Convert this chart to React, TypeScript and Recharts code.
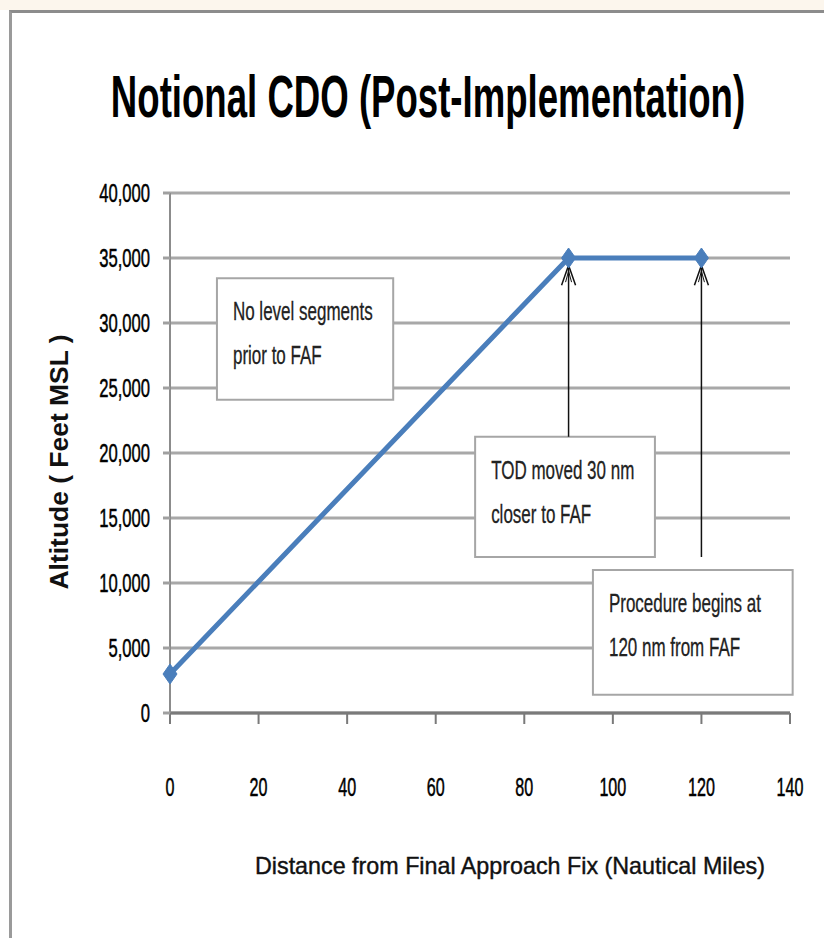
import React from 'react';
import {
  LineChart, Line, XAxis, YAxis, CartesianGrid, ReferenceArea, ReferenceLine, Label,
} from 'recharts';

// flight profile
const distances = [0, 90, 120];
const altitudes = [3000, 35000, 35000];
const xTicks = [0, 20, 40, 60, 80, 100, 120, 140];
const yTicks = [0, 5000, 10000, 15000, 20000, 25000, 30000, 35000, 40000];

const noteTexts = [
  ['No level segments', 'prior to FAF'],
  ['TOD moved 30 nm', 'closer to FAF'],
  ['Procedure begins at', '120 nm from FAF'],
];
const arrowAt = [90, 120];

// layout of the callouts (data units)
const noteBoxes = [
  { x1: 10.6, x2: 50.4, y1: 24100, y2: 33450 },
  { x1: 68.9, x2: 109.5, y1: 12000, y2: 21250 },
  { x1: 95.5, x2: 140.6, y1: 1400, y2: 11000 },
];
const arrowFrom = [21250, 12000];
const arrowTo = 34450;

const data = distances.map((d, i) => ({ d, alt: altitudes[i] }));

const FONT = '"Liberation Sans", Arial, sans-serif';
const BLUE = '#4a7ebb';

const Diamond = (p: any) => {
  const { cx, cy } = p;
  if (cx == null || cy == null) return null;
  return <polygon points={`${cx},${cy - 10} ${cx + 7},${cy} ${cx},${cy + 10} ${cx - 7},${cy}`} fill={BLUE} stroke={BLUE} />;
};

const YTick = ({ x, y, payload }: any) => (
  <g transform={`translate(${x},${y + 9}) scale(0.64,1)`}>
    <text textAnchor="end" fontSize={26} fontFamily={FONT} fill="#000" stroke="#000" strokeWidth={0.5}>
      {payload.value.toLocaleString('en-US')}
    </text>
  </g>
);

const XTick = ({ x, y, payload }: any) => (
  <g transform={`translate(${x},${y + 20}) scale(0.62,1)`}>
    <text textAnchor="middle" fontSize={26} fontFamily={FONT} fill="#000" stroke="#000" strokeWidth={0.5}>
      {payload.value}
    </text>
  </g>
);

const noteLabel = (lines: string[]) => (props: any) => {
  const vb = props.viewBox;
  return (
    <g>
      {lines.map((t, i) => (
        <g key={i} transform={`translate(${vb.x + 16},${vb.y + 42 + i * 44}) scale(0.68,1)`}>
          <text fontSize={25} fontFamily={FONT} fill="#222" stroke="#222" strokeWidth={0.3}>{t}</text>
        </g>
      ))}
    </g>
  );
};

const Arrow = (p: any) => {
  const { x1, y1, y2 } = p;
  const x = x1;
  const top = Math.min(y1, y2);
  const bot = Math.max(y1, y2);
  return (
    <g stroke="#111" strokeWidth={1.5} fill="none">
      <line x1={x} y1={top} x2={x} y2={bot} />
      <path d={`M${x - 7},${top + 20} L${x},${top} L${x + 7},${top + 20}`} />
      <path d={`M${x - 3},${top + 17} L${x},${top + 6} L${x + 3},${top + 17}`} strokeWidth={1} />
    </g>
  );
};

export default function App() {
  return (
    <div style={{ position: 'relative', width: 824, height: 938, background: '#fff', overflow: 'hidden' }}>
      <style>{'body{margin:0}'}</style>
      <div style={{ position: 'absolute', left: 0, top: 0, width: 824, height: 10, background: '#fcf6ed' }} />
      <div style={{
        position: 'absolute', left: 9, top: 10, width: 830, height: 940,
        borderTop: '3px solid #8c8c8c', borderLeft: '3px solid #9a9a9a',
      }} />
      <div style={{ position: 'absolute', left: 0, top: 0 }}>
        <LineChart width={824} height={938} data={data}
          margin={{ top: 193, right: 34, left: 110, bottom: 195 }}>
          <CartesianGrid horizontal vertical={false} stroke="#a8a8a8" strokeWidth={3} />
          <XAxis dataKey="d" type="number" domain={[0, 140]} ticks={xTicks} interval={0}
            height={30} tickSize={11} tickMargin={52}
            axisLine={{ stroke: '#7a7a7a', strokeWidth: 3 }} tickLine={{ stroke: '#7a7a7a', strokeWidth: 2 }}
            tick={<XTick />}>
            <Label content={() => (
              <text x={510} y={874} textAnchor="middle" fontSize={24} fontFamily={FONT} fill="#111"
                stroke="#111" strokeWidth={0.4} textLength={510} lengthAdjust="spacingAndGlyphs">
                Distance from Final Approach Fix (Nautical Miles)
              </text>
            )} />
          </XAxis>
          <YAxis type="number" domain={[0, 40000]} ticks={yTicks} interval={0}
            width={60} tickSize={7} tickMargin={13}
            axisLine={{ stroke: '#8c8c8c', strokeWidth: 2 }} tickLine={{ stroke: '#a0a0a0', strokeWidth: 3 }}
            tick={<YTick />}>
            <Label content={() => (
              <text transform="translate(68,462) rotate(-90)" textAnchor="middle" fontSize={25}
                fontWeight="bold" fontFamily={FONT} fill="#111" textLength={255} lengthAdjust="spacingAndGlyphs">
                Altitude ( Feet MSL )
              </text>
            )} />
          </YAxis>
          {noteBoxes.map((b, i) => (
            <ReferenceArea key={i} x1={b.x1} x2={b.x2} y1={b.y1} y2={b.y2} ifOverflow="visible"
              fill="#fff" fillOpacity={1} stroke="#a6a6a6" strokeWidth={2}
              label={noteLabel(noteTexts[i])} />
          ))}
          {arrowAt.map((x, i) => (
            <ReferenceLine key={i} segment={[{ x, y: arrowFrom[i] }, { x, y: arrowTo }]}
              ifOverflow="visible" shape={<Arrow />} />
          ))}
          <Line type="linear" dataKey="alt" stroke={BLUE} strokeWidth={5}
            dot={<Diamond />} activeDot={false} isAnimationActive={false} />
        </LineChart>
      </div>
      <svg width={824} height={160} style={{ position: 'absolute', left: 0, top: 0 }}>
        <g transform="translate(428,117) scale(0.61,1)">
          <text textAnchor="middle" fontSize={60} fontWeight="bold" fontFamily={FONT} fill="#000">
            Notional CDO (Post-Implementation)
          </text>
        </g>
      </svg>
    </div>
  );
}
